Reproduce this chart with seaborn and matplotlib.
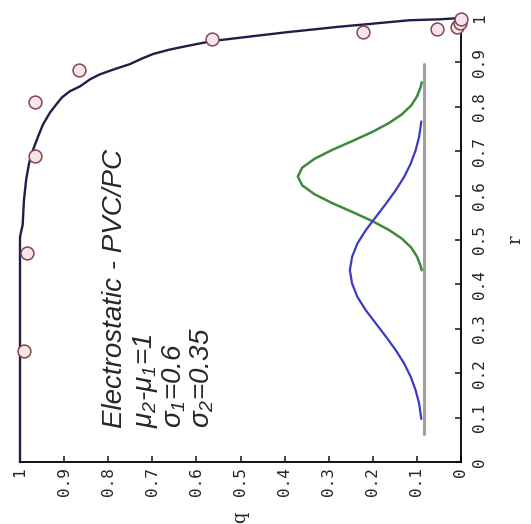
import matplotlib
matplotlib.use("Agg")
import matplotlib.pyplot as plt
import seaborn as sns
import pandas as pd

curve_r = [0.0, 0.507, 0.534, 0.590, 0.636, 0.670, 0.690, 0.715, 0.738, 0.760,
           0.787, 0.805, 0.821, 0.835, 0.846, 0.862, 0.873, 0.885, 0.896, 0.908,
           0.919, 0.929, 0.937, 0.948, 0.959, 0.968, 0.975, 0.980, 0.986, 0.991,
           0.995, 0.997, 1.0]
curve_q = [1.0, 1.0, 0.994, 0.991, 0.986, 0.980, 0.975, 0.966, 0.957, 0.948,
           0.932, 0.918, 0.905, 0.887, 0.864, 0.841, 0.819, 0.785, 0.751, 0.725,
           0.698, 0.660, 0.621, 0.565, 0.472, 0.395, 0.327, 0.280, 0.213, 0.160,
           0.116, 0.050, 0.0]

# measured points
pts_r = [0.249, 0.471, 0.690, 0.810, 0.882, 0.952, 0.968, 0.975, 0.980, 0.988, 0.997]
pts_q = [0.991, 0.984, 0.966, 0.966, 0.866, 0.565, 0.222, 0.054, 0.009, 0.002, 0.0]

# sketch of the two distributions (grey baseline + two bells)
base_q = [0.084, 0.084]
base_r = [0.063, 0.896]
green_r = [0.855, 0.843, 0.823, 0.803, 0.783, 0.763, 0.743, 0.723, 0.703, 0.683,
           0.663, 0.643, 0.623, 0.603, 0.583, 0.563, 0.543, 0.523, 0.503, 0.483,
           0.463, 0.443, 0.432]
green_q = [0.089, 0.092, 0.100, 0.113, 0.134, 0.164, 0.202, 0.246, 0.292, 0.332,
           0.360, 0.370, 0.360, 0.332, 0.292, 0.246, 0.202, 0.164, 0.134, 0.113,
           0.100, 0.092, 0.089]
blue_r = [0.767, 0.732, 0.702, 0.672, 0.642, 0.612, 0.582, 0.552, 0.522, 0.492,
          0.462, 0.432, 0.402, 0.372, 0.342, 0.312, 0.282, 0.252, 0.222, 0.192,
          0.162, 0.132, 0.097]
blue_q = [0.090, 0.095, 0.103, 0.114, 0.129, 0.148, 0.170, 0.193, 0.216, 0.235,
          0.247, 0.252, 0.247, 0.235, 0.216, 0.193, 0.170, 0.148, 0.129, 0.114,
          0.103, 0.095, 0.090]

ticks = [0, 0.1, 0.2, 0.3, 0.4, 0.5, 0.6, 0.7, 0.8, 0.9, 1]
tick_labels = ["0", "0.1", "0.2", "0.3", "0.4", "0.5", "0.6", "0.7", "0.8", "0.9", "1"]

sns.set_style("white")
plt.rcParams["font.family"] = ["DejaVu Sans"]
plt.rcParams["mathtext.fontset"] = "custom"
plt.rcParams["mathtext.it"] = "Liberation Sans:italic"
plt.rcParams["mathtext.rm"] = "Liberation Sans:italic"

fig = plt.figure(figsize=(5.31, 5.24), dpi=100)
ax = fig.add_axes([20 / 531, 1 - 462 / 524, 441 / 531, 444 / 524])

sns.lineplot(x=base_q, y=base_r, sort=False, estimator=None, color="#a0a0a0",
             linewidth=2.2, ax=ax)
sns.lineplot(x=green_q, y=green_r, sort=False, estimator=None, color="#3d8a3d",
             linewidth=1.8, ax=ax)
sns.lineplot(x=blue_q, y=blue_r, sort=False, estimator=None, color="#3b3bc4",
             linewidth=1.6, ax=ax)

sns.lineplot(x=curve_q, y=curve_r, sort=False, estimator=None, color="#1e1e48",
             linewidth=1.7, ax=ax)
for line in ax.lines:
    line.set_clip_on(False)

pts = pd.DataFrame({"q": pts_q, "r": pts_r})
sns.scatterplot(data=pts, x="q", y="r", marker="o", s=85, facecolor="#f7e4ea",
                edgecolor="#86464f", linewidth=1.1, ax=ax, zorder=3, clip_on=False)

ax.set_xlim(1, 0)
ax.set_ylim(0, 1)
ax.yaxis.tick_right()
ax.yaxis.set_label_position("right")
for side in ["top", "left"]:
    ax.spines[side].set_visible(False)
for side in ["bottom", "right"]:
    ax.spines[side].set_color("black")
    ax.spines[side].set_linewidth(1.3)

mono = {"family": "DejaVu Sans Mono", "size": 11.5}
ax.set_xticks(ticks)
ax.set_xticklabels(tick_labels, rotation=90, fontdict=mono)
ax.set_yticks(ticks)
ax.set_yticklabels(tick_labels, rotation=90, fontdict=mono, va="center")
ax.tick_params(axis="x", direction="in", length=4, width=1.2, pad=4,
               bottom=True, top=False)
ax.tick_params(axis="y", direction="in", length=4, width=1.2, pad=8,
               right=True, left=False)

ax.set_ylabel("r", family="DejaVu Serif", fontsize=13, rotation=90, labelpad=14)
ax.set_xlabel("")
# q label sits just under the tick labels
ax.text(0.5, -0.125, "q", transform=ax.transAxes, family="DejaVu Serif",
        fontsize=13, rotation=90, ha="center", va="center")

# annotation, written bottom-to-top like the rest of the picture
txt = dict(rotation=90, rotation_mode="anchor", ha="left", va="baseline",
           family="Liberation Sans", style="italic", fontsize=20)
fig.text(122 / 531, 1 - 428 / 524, "Electrostatic - PVC/PC", **txt)
fig.text(152 / 531, 1 - 428 / 524, r"$\mu_2$-$\mu_1$=1", **txt)
fig.text(181 / 531, 1 - 428 / 524, r"$\sigma_1$=0.6", **txt)
fig.text(210 / 531, 1 - 428 / 524, r"$\sigma_2$=0.35", **txt)

fig.savefig("out.png", dpi=100)
